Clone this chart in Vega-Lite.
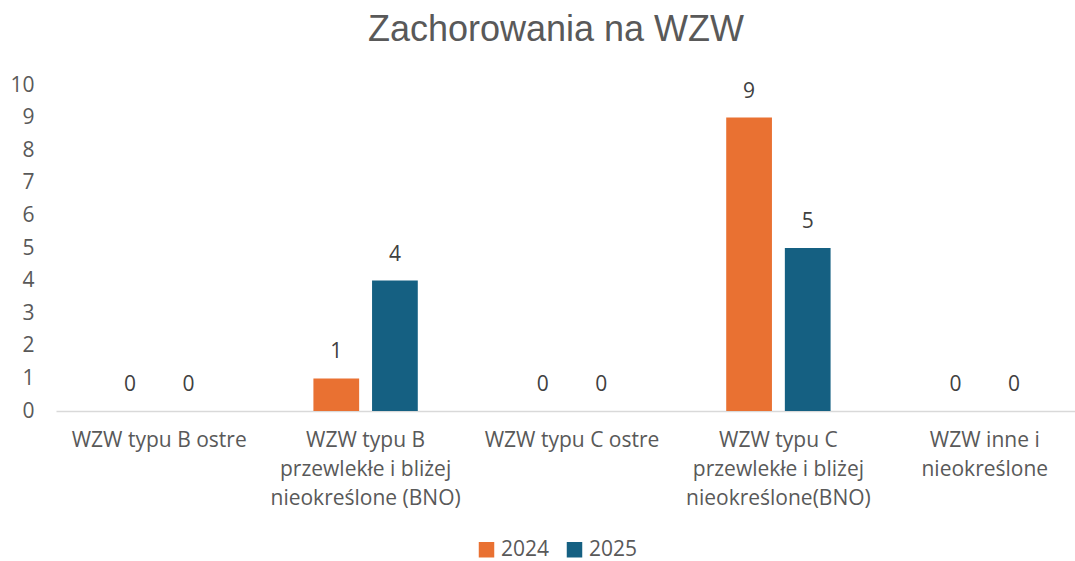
{
  "$schema": "https://vega.github.io/schema/vega-lite/v6.json",
  "width": 1032,
  "height": 326,
  "autosize": "none",
  "padding": {"left": 56, "top": 85, "right": 0, "bottom": 150},
  "background": "white",
  "title": {
    "text": "Zachorowania  na WZW",
    "font": "Liberation Sans",
    "fontSize": 36,
    "fontWeight": "normal",
    "color": "#595959",
    "anchor": "middle",
    "dx": -16,
    "offset": 25
  },
  "data": {
    "values": [
      {"kategoria": "WZW typu B ostre", "rok": "2024", "liczba": 0},
      {"kategoria": "WZW typu B ostre", "rok": "2025", "liczba": 0},
      {"kategoria": "WZW typu B przewlekłe i bliżej nieokreślone (BNO)", "rok": "2024", "liczba": 1},
      {"kategoria": "WZW typu B przewlekłe i bliżej nieokreślone (BNO)", "rok": "2025", "liczba": 4},
      {"kategoria": "WZW typu C ostre", "rok": "2024", "liczba": 0},
      {"kategoria": "WZW typu C ostre", "rok": "2025", "liczba": 0},
      {"kategoria": "WZW typu C przewlekłe i bliżej nieokreślone(BNO)", "rok": "2024", "liczba": 9},
      {"kategoria": "WZW typu C przewlekłe i bliżej nieokreślone(BNO)", "rok": "2025", "liczba": 5},
      {"kategoria": "WZW inne i nieokreślone", "rok": "2024", "liczba": 0},
      {"kategoria": "WZW inne i nieokreślone", "rok": "2025", "liczba": 0}
    ]
  },
  "encoding": {
    "x": {
      "field": "kategoria",
      "type": "nominal",
      "sort": null,
      "scale": {"paddingInner": 0, "paddingOuter": 0},
      "axis": {
        "title": null,
        "labelAngle": 0,
        "labelFont": "Open Sans",
        "labelFontSize": 21,
        "labelColor": "#595959",
        "labelPadding": 18,
        "labelLineHeight": 29,
        "labelBaseline": "top",
        "labelLimit": 0,
        "labelOverlap": false,
        "ticks": false,
        "domainColor": "#D9D9D9",
        "domainWidth": 1.5,
        "labelExpr": "datum.label == 'WZW typu B przewlekłe i bliżej nieokreślone (BNO)' ? ['WZW typu B', 'przewlekłe i bliżej', 'nieokreślone (BNO)'] : datum.label == 'WZW typu C przewlekłe i bliżej nieokreślone(BNO)' ? ['WZW typu C', 'przewlekłe i bliżej', 'nieokreślone(BNO)'] : datum.label == 'WZW inne i nieokreślone' ? ['WZW inne i', 'nieokreślone'] : datum.label"
      }
    },
    "xOffset": {
      "field": "rok",
      "type": "nominal",
      "scale": {"paddingInner": 0.22, "paddingOuter": 0.87}
    },
    "y": {
      "field": "liczba",
      "type": "quantitative",
      "scale": {"domain": [0, 10], "nice": false},
      "axis": {
        "title": null,
        "values": [0,1,2,3,4,5,6,7,8,9,10],
        "labelOverlap": false,
        "labelFlush": false,
        "grid": false,
        "domain": false,
        "ticks": false,
        "labelFont": "Open Sans",
        "labelFontSize": 21,
        "labelColor": "#595959",
        "labelPadding": 22
      }
    }
  },
  "layer": [
    {
      "mark": {"type": "bar"},
      "encoding": {
        "color": {
          "field": "rok",
          "type": "nominal",
          "scale": {"domain": ["2024", "2025"], "range": ["#E97132", "#156082"]},
          "legend": {
            "title": null,
            "orient": "none",
            "direction": "horizontal",
            "legendX": 420,
            "legendY": 454,
            "symbolType": "square",
            "symbolSize": 240,
            "symbolStrokeWidth": 0,
            "labelFont": "Open Sans",
            "labelFontSize": 21,
            "labelColor": "#595959",
            "columnPadding": 14,
            "labelOffset": 4
          }
        }
      }
    },
    {
      "mark": {
        "type": "text",
        "baseline": "middle",
        "dy": -26,
        "font": "Open Sans",
        "fontSize": 21,
        "color": "#404040"
      },
      "encoding": {
        "text": {"field": "liczba", "type": "quantitative"}
      }
    }
  ],
  "config": {
    "view": {"stroke": null}
  }
}
